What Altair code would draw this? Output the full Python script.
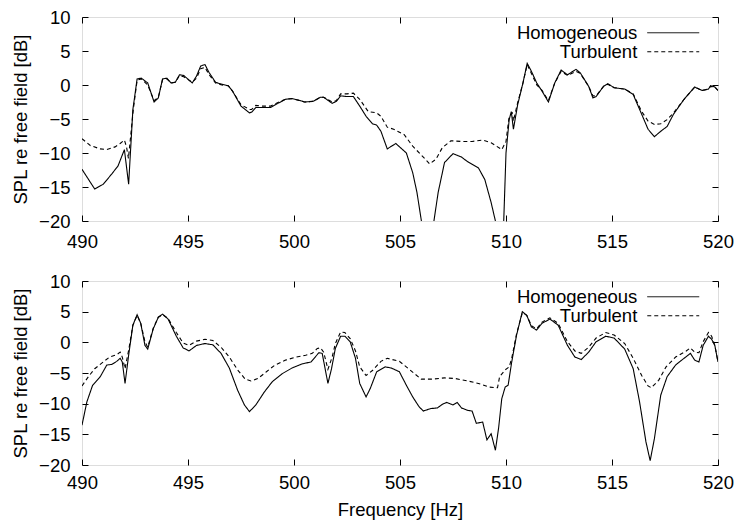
import altair as alt
import pandas as pd

X_TICKS = [490, 495, 500, 505, 510, 515, 520]
Y_TICKS = [-20, -15, -10, -5, 0, 5, 10]
SERIES = ["Homogeneous", "Turbulent"]

TOP_H_FREQ = [490.0, 490.6, 491.0, 491.4, 491.7, 492.0, 492.2, 492.4, 492.6, 492.8, 493.1, 493.4, 493.6, 493.8,
              494.0, 494.2, 494.4, 494.6, 494.8, 495.2, 495.4, 495.6, 495.8, 496.0, 496.3, 496.6, 496.9, 497.1,
              497.5, 497.9, 498.0, 498.2, 498.5, 498.9, 499.3, 499.6, 499.9, 500.3, 500.5, 500.9, 501.25, 501.4,
              501.8, 502.0, 502.2, 502.5, 502.8, 503.1, 503.4, 503.7, 503.9, 504.1, 504.4, 504.8, 505.3, 505.6,
              505.8, 506.0, 506.3, 506.6, 506.8, 507.1, 507.5, 507.9, 508.2, 508.7, 509.0, 509.3, 509.5, 509.7,
              509.85, 510.0, 510.15, 510.25, 510.35, 510.55, 510.8, 511.0, 511.2, 511.45, 511.7, 512.0, 512.3,
              512.6, 512.9, 513.3, 513.5, 513.9, 514.1, 514.25, 514.6, 514.8, 515.1, 515.6, 516.0, 516.4, 516.7,
              517.0, 517.3, 517.6, 517.9, 518.4, 518.9, 519.25, 519.55, 519.65, 519.85, 520.0]
TOP_H_SPL = [-12.4, -15.3, -14.6, -13.1, -11.9, -9.5, -14.6, -3.6, 0.9, 1.0, 0.3, -2.5, -1.9, 0.9,
             1.0, 0.3, 0.4, 1.5, 1.4, 0.3, 1.3, 2.8, 3.0, 1.8, 0.4, 0.1, -0.1, -0.9,
             -3.1, -4.1, -4.0, -3.3, -3.3, -3.3, -2.6, -2.1, -2.0, -2.3, -2.5, -2.4, -1.8, -1.8,
             -2.7, -2.4, -1.6, -1.7, -1.7, -3.1, -4.6, -5.7, -5.9, -6.8, -9.4, -8.6, -10.0, -12.9,
             -15.8, -19.8, -26.0, -20.0, -15.8, -11.4, -10.1, -10.6, -11.3, -12.2, -13.9, -17.3, -20.0, -30.0,
             -24.0, -10.0, -5.1, -3.9, -6.5, -2.9, 0.3, 3.2, 2.0, 0.3, -0.9, -2.5, 0.3,
             2.2, 1.5, 2.3, 1.8, -0.2, -1.9, -1.7, -0.2, 0.2, -0.4, -0.6, -1.4, -4.3, -6.5,
             -7.6, -6.8, -6.1, -4.3, -2.1, -0.3, -0.8, -0.6, -0.1, -0.3, -0.8]

TOP_T_FREQ = [490.0, 490.39, 490.86, 491.17, 491.56, 491.8, 492.0, 492.1, 492.19, 492.42, 492.6, 492.8, 493.1,
              493.4, 493.6, 493.8, 494.0, 494.2, 494.4, 494.6, 494.8, 495.2, 495.4, 495.6, 495.8, 496.0, 496.3,
              496.6, 496.9, 497.1, 497.5, 497.9, 498.0, 498.2, 498.5, 498.9, 499.3, 499.6, 499.9, 500.3, 500.5,
              500.9, 501.25, 501.4, 501.8, 502.0, 502.2, 502.5, 502.8, 503.1, 503.5, 503.9, 504.1, 504.4, 504.7,
              505.2, 505.6, 506.1, 506.4, 506.7, 507.0, 507.4, 507.9, 508.4, 508.9, 509.3, 509.8, 510.0, 510.15,
              510.3, 510.35, 510.55, 510.8, 511.0, 511.2, 511.45, 511.7, 512.0, 512.3, 512.6, 512.9, 513.3, 513.5,
              513.9, 514.1, 514.25, 514.6, 514.8, 515.1, 515.6, 516.0, 516.4, 516.7, 517.0, 517.3, 517.6, 517.9,
              518.4, 518.9, 519.25, 519.55, 519.65, 519.85, 520.0]
TOP_T_SPL = [-7.9, -8.9, -9.4, -9.5, -9.1, -8.6, -8.1, -9.1, -10.8, -3.6, 0.7, 0.9, 0.0,
             -2.3, -1.8, 0.8, 0.9, 0.3, 0.4, 1.4, 1.2, 0.4, 1.0, 2.4, 2.6, 1.5, 0.3,
             0.0, -0.1, -0.9, -2.9, -3.6, -3.6, -3.0, -3.1, -3.1, -2.5, -2.1, -2.0, -2.3, -2.5,
             -2.4, -1.8, -1.8, -2.5, -2.3, -1.3, -1.3, -1.2, -2.1, -3.9, -4.1, -4.6, -6.2, -6.5,
             -7.3, -9.0, -10.6, -11.6, -10.9, -9.2, -8.2, -8.3, -8.3, -8.1, -8.5, -9.5, -8.3, -4.6,
             -4.1, -5.3, -2.6, 0.3, 3.0, 1.7, 0.0, -0.8, -2.3, 0.3, 2.0, 1.4, 2.0, 1.7,
             -0.2, -1.6, -1.6, -0.2, 0.1, -0.4, -0.6, -1.3, -3.9, -5.3, -5.8, -5.7, -5.1, -4.1,
             -2.1, -0.3, -0.8, -0.6, -0.2, -0.3, -0.8]

BOT_H_FREQ = [490.0, 490.23, 490.5, 490.86, 491.17, 491.4, 491.64, 491.8, 491.9, 492.03, 492.2, 492.4, 492.6,
              492.77, 492.97, 493.1, 493.36, 493.6, 493.8, 494.06, 494.45, 494.77, 495.05, 495.4, 495.8, 496.17,
              496.56, 496.95, 497.34, 497.66, 497.9, 498.2, 498.6, 498.98, 499.45, 499.9, 500.4, 500.8, 501.0,
              501.17, 501.33, 501.6, 501.77, 501.95, 502.2, 502.4, 502.65, 502.9, 503.1, 503.4, 503.6, 503.9,
              504.3, 504.6, 504.97, 505.3, 505.6, 505.9, 506.1, 506.45, 506.76, 507.0, 507.2, 507.5, 507.7,
              507.9, 508.2, 508.4, 508.6, 508.9, 509.1, 509.3, 509.5, 509.65, 509.8, 509.96, 510.1, 510.27,
              510.5, 510.77, 510.98, 511.2, 511.44, 511.7, 512.07, 512.46, 512.9, 513.25, 513.55, 513.9, 514.25,
              514.7, 515.1, 515.6, 516.0, 516.3, 516.6, 516.8, 517.0, 517.3, 517.6, 518.0, 518.4, 518.7, 518.9,
              519.1, 519.3, 519.55, 519.7, 519.85, 520.0]
BOT_H_SPL = [-13.5, -9.7, -7.0, -5.6, -3.7, -3.6, -3.1, -2.6, -3.2, -6.7, -2.1, 2.8, 4.5,
             3.1, -0.5, -1.1, 2.2, 4.1, 4.6, 3.8, 1.0, -0.9, -1.4, -0.5, -0.2, -0.4,
             -1.8, -4.2, -7.8, -10.2, -11.3, -10.2, -8.1, -6.4, -5.1, -4.2, -3.5, -3.2, -2.4,
             -1.7, -1.8, -6.7, -4.3, -1.0, 1.0, 1.0, 0.1, -2.6, -6.7, -8.9, -7.5, -4.8,
             -4.0, -4.2, -4.8, -7.0, -8.9, -10.5, -11.2, -10.8, -10.7, -10.1, -9.8, -10.2, -9.8,
             -10.7, -11.1, -11.2, -13.2, -13.0, -15.9, -14.9, -17.6, -14.0, -9.2, -7.3, -7.0, -3.2,
             1.2, 5.0, 4.4, 2.5, 2.0, 3.1, 3.8, 2.8, -0.5, -2.4, -2.8, -1.6, 0.1,
             1.0, 0.7, -1.1, -4.3, -9.7, -16.2, -19.3, -15.7, -8.6, -5.6, -3.7, -2.6, -1.8, -2.9,
             -3.2, -0.5, 1.0, 0.5, -0.5, -3.2]

BOT_T_FREQ = [490.0, 490.3, 490.6, 491.0, 491.3, 491.64, 491.8, 491.9, 492.03, 492.2, 492.4, 492.6, 492.77,
              492.97, 493.1, 493.36, 493.6, 493.8, 494.06, 494.45, 494.77, 495.05, 495.4, 495.8, 496.17, 496.56,
              496.95, 497.34, 497.7, 497.97, 498.3, 498.7, 499.1, 499.6, 500.1, 500.55, 500.86, 501.1, 501.25,
              501.4, 501.6, 501.8, 501.95, 502.2, 502.4, 502.65, 502.9, 503.1, 503.4, 503.7, 504.1, 504.4,
              504.97, 505.4, 506.0, 506.5, 507.1, 507.6, 508.2, 508.7, 509.2, 509.6, 509.7, 509.96, 510.15,
              510.27, 510.5, 510.77, 510.98, 511.2, 511.44, 511.7, 512.07, 512.46, 512.9, 513.25, 513.55, 513.9,
              514.25, 514.7, 515.1, 515.6, 516.0, 516.4, 516.7, 516.85, 517.2, 517.55, 518.0, 518.5, 518.7,
              518.9, 519.1, 519.3, 519.55, 519.7, 519.85, 520.0]
BOT_T_SPL = [-7.1, -5.6, -4.3, -3.2, -2.4, -2.0, -1.6, -2.4, -4.3, -1.3, 2.8, 4.4, 3.1,
             0.1, -0.8, 2.3, 4.1, 4.5, 3.9, 1.6, -0.1, -0.5, 0.2, 0.5, 0.3, -0.8,
             -2.4, -4.5, -6.0, -6.3, -5.9, -4.8, -3.7, -2.9, -2.4, -2.1, -1.8, -1.0, -0.9,
             -1.6, -4.4, -2.4, -0.2, 1.7, 1.6, 0.6, -1.4, -4.0, -5.4, -4.6, -3.1, -2.6,
             -3.1, -4.3, -6.0, -6.0, -5.8, -5.9, -6.3, -6.7, -7.3, -7.4, -5.6, -4.5, -4.0,
             -2.6, 1.4, 4.8, 4.4, 2.7, 2.2, 3.3, 4.0, 3.1, 0.1, -1.4, -1.8, -0.8,
             0.7, 1.6, 1.2, -0.2, -2.6, -5.4, -7.1, -7.4, -6.2, -4.0, -2.4, -1.4, -0.9,
             -1.6, -1.7, 0.1, 1.6, 1.0, -0.5, -3.2]

FONT = "Liberation Sans"
FS = 18.5
W = 636


def frame(h_freq, h_spl, t_freq, t_spl, height, xtitle, xlabel_pad):
    df = pd.concat([
        pd.DataFrame({"f": h_freq, "v": h_spl, "s": SERIES[0]}),
        pd.DataFrame({"f": t_freq, "v": t_spl, "s": SERIES[1]}),
    ])
    xs = alt.Scale(domain=[490, 520], nice=False, zero=False)
    ys = alt.Scale(domain=[-20, 10], nice=False, zero=False)
    common = dict(offset=-6, tickSize=6, tickColor="black", tickWidth=1, domain=False, grid=False)
    xaxis_kw = dict(orient="bottom", values=X_TICKS, labelPadding=xlabel_pad, labelFlush=False,
                    labelFontSize=FS, labelFont=FONT, labelColor="black", **common)
    if xtitle:
        xaxis_kw.update(title=xtitle, titleFontSize=FS, titleFont=FONT, titleFontWeight="normal",
                        titleColor="black", titlePadding=9)
    else:
        xaxis_kw.update(title=None)
    base = alt.Chart(df)
    lines = base.mark_line(clip=True, color="black", strokeWidth=1.1).encode(
        x=alt.X("f:Q", scale=xs, axis=alt.Axis(**xaxis_kw)),
        y=alt.Y("v:Q", scale=ys, axis=alt.Axis(
            orient="left", values=Y_TICKS, labelPadding=12, labelFlush=False,
            labelFontSize=FS, labelFont=FONT, labelColor="black",
            title="SPL re free field [dB]", titleFontSize=FS, titleFont=FONT,
            titleFontWeight="normal", titleColor="black", titlePadding=8, **common)),
        strokeDash=alt.StrokeDash("s:N", scale=alt.Scale(domain=SERIES, range=[[1, 0], [4, 3]]),
                                  legend=alt.Legend(orient="none", legendX=582, legendY=6.5, title=None,
                                                    symbolType="M-5,0H5", symbolSize=108,
                                                    symbolStrokeWidth=1, symbolStrokeColor="black",
                                                    symbolFillColor="transparent",
                                                    labelAlign="right", labelOffset={"expr": "-45.2"},
                                                    labelFontSize=FS, labelFont=FONT, labelColor="black",
                                                    rowPadding=0, padding=0)),
    )
    mirror = base.mark_line(opacity=0).encode(
        x=alt.X("f:Q", scale=xs, axis=alt.Axis(orient="top", values=X_TICKS, labels=False, title=None, **common)),
        y=alt.Y("v:Q", scale=ys, axis=alt.Axis(orient="right", values=Y_TICKS, labels=False, title=None, **common)),
        detail="s:N",
    )
    return alt.layer(lines, mirror).resolve_axis(x="independent", y="independent").properties(
        width=W, height=height)


top = frame(TOP_H_FREQ, TOP_H_SPL, TOP_T_FREQ, TOP_T_SPL, 204, None, 11)
bottom = frame(BOT_H_FREQ, BOT_H_SPL, BOT_T_FREQ, BOT_T_SPL, 184, "Frequency [Hz]", 8)

chart = alt.vconcat(top, bottom, spacing=60, bounds="flush").resolve_scale(
    x="independent", y="independent", strokeDash="independent"
).resolve_legend(strokeDash="independent").properties(
    padding={"left": 3, "top": -1, "right": 0, "bottom": 0}
).configure_view(stroke="black", strokeWidth=1).configure(background="white")

chart.save("out.html", embed_options={"renderer": "svg", "actions": False})
